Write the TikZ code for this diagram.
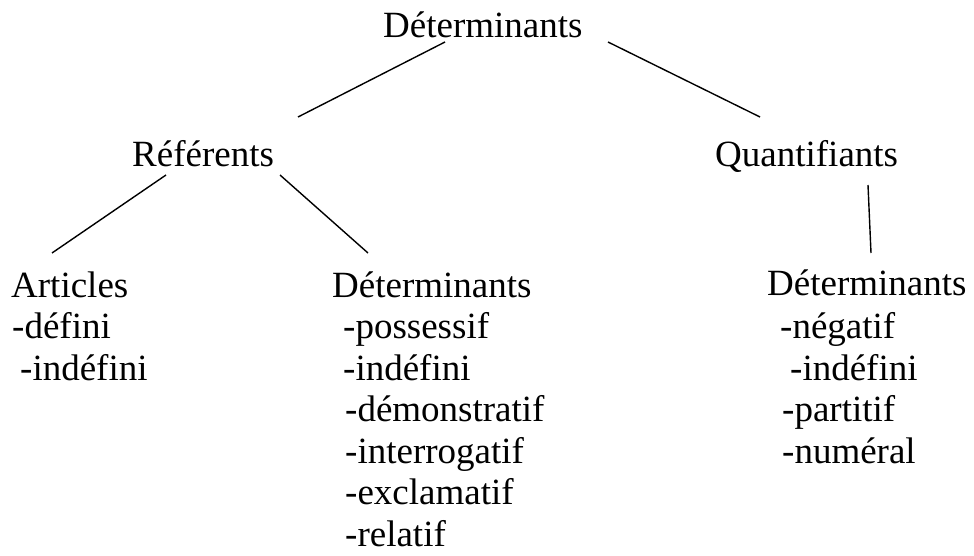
\documentclass[tikz,border=0pt]{standalone}
\usepackage{fontspec}
\setmainfont{Liberation Serif}
\begin{document}
\begin{tikzpicture}[x=1pt,y=-1pt,
  lbl/.style={anchor=base west,inner sep=0pt,font=\fontsize{37}{41.5}\selectfont},
  branch/.style={line width=1.4pt,black}]
\useasboundingbox (0,0) rectangle (974,556);

% top level
\node[lbl] (root) at (383,38) {Déterminants};
\node[lbl] (ref) at (132,167) {Référents};
\node[lbl] (quant) at (715,167) {Quantifiants};

% left column: articles
\node[lbl] (art) at (11,297) {Articles};
\node[lbl] (art1) at (12,338) {-défini};
\node[lbl] (art2) at (20,380) {-indéfini};

% middle column: referent determiners
\node[lbl] (rdet) at (332,297) {Déterminants};
\node[lbl] (rd1) at (343,338) {-possessif};
\node[lbl] (rd2) at (343,380) {-indéfini};
\node[lbl] (rd3) at (345,421) {-démonstratif};
\node[lbl] (rd4) at (345,463) {-interrogatif};
\node[lbl] (rd5) at (345,504) {-exclamatif};
\node[lbl] (rd6) at (345,546) {-relatif};

% right column: quantifying determiners
\node[lbl] (qdet) at (767,295) {Déterminants};
\node[lbl] (qd1) at (780,338) {-négatif};
\node[lbl] (qd2) at (790,380) {-indéfini};
\node[lbl] (qd3) at (782,421) {-partitif};
\node[lbl] (qd4) at (782,463) {-numéral};

% branch end points
\coordinate (root-l) at (445,42);
\coordinate (root-r) at (608,42);
\coordinate (ref-top) at (298,117);
\coordinate (quant-top) at (760,117);
\coordinate (ref-l) at (166,175);
\coordinate (ref-r) at (280,175);
\coordinate (art-top) at (52,253);
\coordinate (rdet-top) at (368,253);
\coordinate (quant-b) at (868,185);
\coordinate (qdet-top) at (871,253);

\draw[branch] (root-l) -- (ref-top);
\draw[branch] (root-r) -- (quant-top);
\draw[branch] (ref-l) -- (art-top);
\draw[branch] (ref-r) -- (rdet-top);
\draw[branch] (quant-b) -- (qdet-top);
\end{tikzpicture}
\end{document}
